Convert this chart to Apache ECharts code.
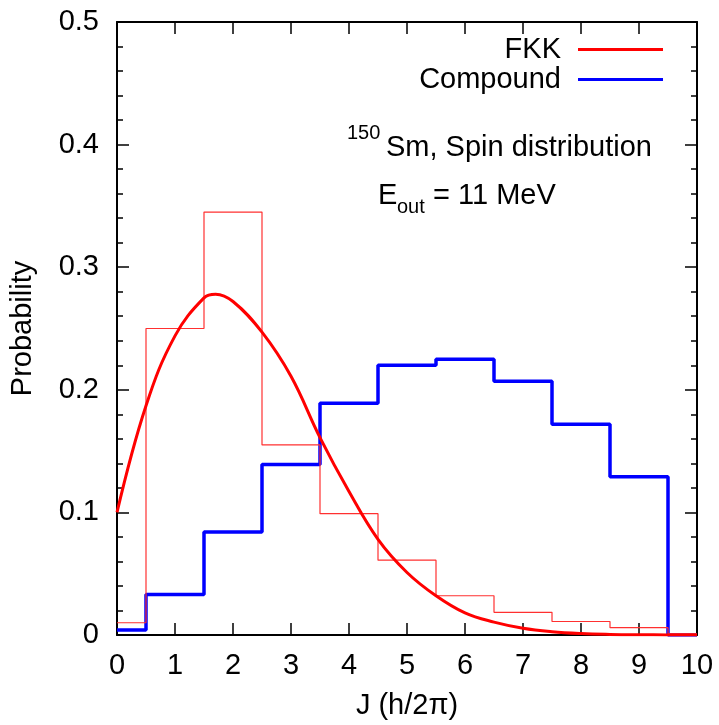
<!DOCTYPE html>
<html><head><meta charset="utf-8">
<script src="https://cdn.jsdelivr.net/npm/echarts@6/dist/echarts.min.js"></script>
<style>html,body{margin:0;padding:0;background:#fff}#c{width:719px;height:725px}</style>
</head><body><div id="c"></div>
<script>
const binJ = [0,1,2,3,4,5,6,7,8,9,10];
const fkkHist = [0.010,0.250,0.345,0.155,0.099,0.061,0.032,0.0185,0.011,0.006,0.001];
const compoundHist = [0.004,0.033,0.084,0.139,0.189,0.220,0.225,0.207,0.172,0.129,0];
const curveJ = [0,0.5,1,1.5,1.7,2,2.5,3,3.5,4,4.5,5,5.5,6,6.5,7,7.5,8,8.5,9,9.5,10];
const curveP = [0.100,0.187,0.244,0.275,0.278,0.272,0.247,0.211,0.161,0.117,0.078,0.051,0.032,0.018,0.0105,0.0055,0.0027,0.0012,0.0005,0.0002,0.0001,0];
const yTicks = ['0','0.1','0.2','0.3','0.4','0.5'];
const xTicks = ['0','1','2','3','4','5','6','7','8','9','10'];

const FONT = 'Liberation Sans';
const FS = 29;
const pair = (xs, ys) => xs.map((x, i) => [x, ys[i]]);
const chart = echarts.init(document.getElementById('c'), null, {renderer: 'canvas'});
const axLine = {show: true, onZero: false, lineStyle: {color: '#000', width: 2}};
const tickStyle = {color: '#000', width: 1.5};
chart.setOption({
  animation: false,
  backgroundColor: '#fff',
  grid: {left: 116, right: 22, top: 22, bottom: 89, containLabel: false},
  legend: {
    orient: 'vertical', right: 51, top: 30, align: 'right', itemGap: 1,
    itemWidth: 85, itemHeight: 3, icon: 'rect',
    data: ['FKK', 'Compound'],
    textStyle: {fontFamily: FONT, fontSize: FS, color: '#000', lineHeight: 28, padding: [0, 12, 0, 0]}
  },
  graphic: [
    {type: 'text', left: 347, top: 123, style: {text: '150', font: '20px "Liberation Sans"', fill: '#000'}},
    {type: 'text', left: 386, top: 133, style: {text: 'Sm, Spin distribution', font: FS + 'px "Liberation Sans"', fill: '#000'}},
    {type: 'text', left: 378, top: 181, style: {text: 'E', font: FS + 'px "Liberation Sans"', fill: '#000'}},
    {type: 'text', left: 397, top: 197, style: {text: 'out', font: '20px "Liberation Sans"', fill: '#000'}},
    {type: 'text', left: 433, top: 181, style: {text: '= 11 MeV', font: FS + 'px "Liberation Sans"', fill: '#000'}}
  ],
  xAxis: [
    {type: 'value', position: 'bottom', min: 0, max: 10, interval: 1,
     axisLine: axLine, axisTick: {inside: true, length: 12, lineStyle: tickStyle},
     axisLabel: {fontFamily: FONT, fontSize: FS, color: '#000', margin: 16,
       formatter: v => xTicks[Math.round(v)]},
     splitLine: {show: false},
     name: 'J (h/2π)', nameLocation: 'middle', nameGap: 56,
     nameTextStyle: {fontFamily: FONT, fontSize: FS, color: '#000'}},
    {type: 'value', position: 'top', min: 0, max: 10, interval: 1,
     axisLine: axLine, axisTick: {inside: true, length: 12, lineStyle: tickStyle},
     axisLabel: {show: false}, splitLine: {show: false}}
  ],
  yAxis: [
    {type: 'value', position: 'left', min: 0, max: 0.5, interval: 0.1,
     axisLine: axLine, axisTick: {inside: true, length: 12, lineStyle: tickStyle},
     minorTick: {show: true, splitNumber: 5, length: 6, lineStyle: tickStyle},
     axisLabel: {fontFamily: FONT, fontSize: FS, color: '#000', margin: 18,
       formatter: v => yTicks[Math.round(v * 10)]},
     splitLine: {show: false},
     name: 'Probability', nameLocation: 'middle', nameGap: 80,
     nameTextStyle: {fontFamily: FONT, fontSize: FS, color: '#000'}},
    {type: 'value', position: 'right', min: 0, max: 0.5, interval: 0.1,
     axisLine: axLine, axisTick: {inside: true, length: 12, lineStyle: tickStyle},
     minorTick: {show: true, splitNumber: 5, length: 6, lineStyle: tickStyle},
     axisLabel: {show: false}, splitLine: {show: false}}
  ],
  series: [
    {name: 'Compound', type: 'line', step: 'middle', data: pair(binJ, compoundHist),
     showSymbol: false, color: '#0000ff', lineStyle: {color: '#0000ff', width: 3.5}, z: 3},
    {name: 'FKK-hist', type: 'line', step: 'middle', data: pair(binJ, fkkHist),
     showSymbol: false, color: '#ff0000', lineStyle: {color: '#ff3030', width: 1.2}, z: 4},
    {name: 'FKK', type: 'line', smooth: 0.4, data: pair(curveJ, curveP),
     showSymbol: false, color: '#ff0000', lineStyle: {color: '#ff0000', width: 3}, z: 5}
  ]
});
</script></body></html>
